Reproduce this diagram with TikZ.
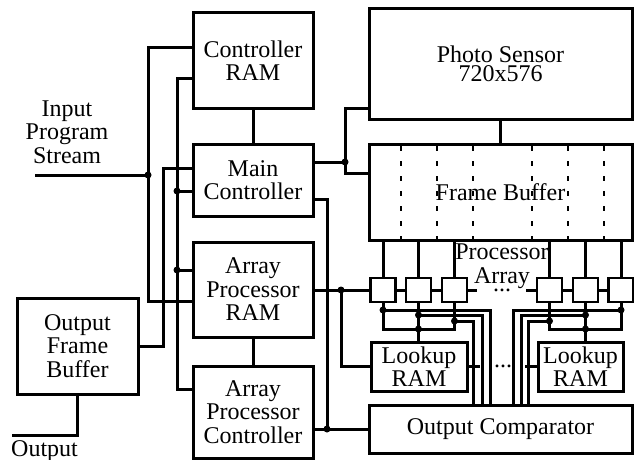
\documentclass[tikz,border=0pt]{standalone}
\usepackage{fontspec}
\setmainfont{Liberation Serif}
\usepackage{tikz}
\definecolor{ink}{HTML}{000000}

\begin{document}
\begin{tikzpicture}[
  x=1pt, y=-1pt,
  blk/.style={draw=ink, line width=3pt, align=center, inner sep=0pt, text=ink, font=\fontsize{24}{23.5}\selectfont},
  pe/.style={draw=ink, line width=2.6pt, minimum width=25pt, minimum height=24pt, inner sep=0pt},
  lbl/.style={align=center, inner sep=0pt, text=ink, font=\fontsize{24}{23.5}\selectfont},
  wire/.style={draw=ink, line width=3pt},
  sep/.style={draw=ink, line width=2pt, dash pattern=on 5pt off 10pt}
]
\useasboundingbox (0,0) rectangle (634,460);
% control column
\node[blk, minimum width=120pt, minimum height=95pt] (ctrlram) at (253,60.5) {Controller\\RAM};
\node[blk, minimum width=120pt, minimum height=72pt] (mainctrl) at (253,180) {Main\\Controller};
\node[blk, minimum width=120pt, minimum height=95pt] (apram) at (253,289.5) {Array\\Processor\\RAM};
\node[blk, minimum width=120pt, minimum height=92pt] (apctrl) at (253,412) {Array\\Processor\\Controller};
\node[blk, minimum width=121pt, minimum height=96pt] (outfb) at (77.5,346) {Output\\Frame\\Buffer};
% sensor side
\node[blk, minimum width=263pt, minimum height=110pt] (photo) at (500.5,64) {Photo Sensor\\[-4.5pt]720x576};
\node[blk, minimum width=263pt, minimum height=96pt] (framebuf) at (500.5,192) {Frame Buffer};
\node[blk, minimum width=263pt, minimum height=48pt] (outcmp) at (500.5,429) {Output Comparator};
\node[blk, minimum width=96pt, minimum height=49pt] (lkL) at (419,366.5) {Lookup\\RAM};
\node[blk, minimum width=85pt, minimum height=49pt] (lkR) at (580.5,366.5) {Lookup\\RAM};
% processor array
\node[lbl] (palbl) at (502,266) {Processor\\Array};
\node[lbl, anchor=base] (padots) at (502,291) {...};
\node[lbl, anchor=base] (lkdots) at (503,367) {...};
\node[pe] (pe1) at (383,290) {};
\node[pe] (pe2) at (418.5,290) {};
\node[pe] (pe3) at (454.5,290) {};
\node[pe] (pe4) at (549.5,290) {};
\node[pe] (pe5) at (585.5,290) {};
\node[pe] (pe6) at (621,290) {};
% outside labels
\node[lbl] (inlbl) at (67,132) {Input\\Program\\Stream};
\node[lbl, anchor=north west] (outlbl) at (11,440) {Output};

\coordinate (instart) at (35,175);
\coordinate (jin) at (148,175);
\coordinate (jmc) at (177,191);
\coordinate (jar) at (177,270);
\coordinate (bus) at (177,389);
\coordinate (fbbus) at (163,346);
\coordinate (outend) at (12,435);
\coordinate (jps) at (345,162);
\coordinate (joc) at (327,429);
\coordinate (jpa) at (341,290);
\coordinate (stubL) at (477,290);
\coordinate (stubR) at (526,290);

% frame buffer columns
\foreach \x in {401,437,473,532,568,604}
  \draw[sep] (\x,146) -- (\x,240);

% left buses
\draw[wire] (instart) -- (jin);
\draw[wire] (ctrlram.west |- 0,48) -| (jin) |- (apram.west |- 0,301);
\draw[wire] (ctrlram.west |- 0,78) -| (bus) -- (apctrl.west |- bus);
\draw[wire] (jmc) -- (mainctrl.west |- jmc);
\draw[wire] (jar) -- (apram.west |- jar);
\draw[wire] (mainctrl.west |- 0,168) -| (fbbus) -- (outfb.east);
\draw[wire] (outfb.south) |- (outend);
\draw[wire] (ctrlram) -- (mainctrl);
\draw[wire] (apram) -- (apctrl);

% right side
\draw[wire] (photo) -- (framebuf);
\draw[wire] (mainctrl.east |- jps) -- (jps);
\draw[wire] (photo.west |- 0,108) -| (jps) |- (framebuf.west |- 0,173);
\draw[wire] (mainctrl.east |- 0,199) -| (joc);
\draw[wire] (apctrl.east |- joc) -- (outcmp.west |- joc);
\draw[wire] (apram.east |- jpa) -- (pe1);
\draw[wire] (jpa) |- (lkL.west);
\draw[wire] (pe1) -- (pe2);
\draw[wire] (pe2) -- (pe3);
\draw[wire] (pe3) -- (stubL);
\draw[wire] (stubR) -- (pe4);
\draw[wire] (pe4) -- (pe5);
\draw[wire] (pe5) -- (pe6);
\foreach \p in {pe1,pe2,pe3,pe4,pe5,pe6}
  \draw[wire] (\p.north |- framebuf.south) -- (\p.north);

% left lookup group
\draw[wire] (pe1.south) |- (pe3.south |- 0,329) -- (pe3.south);
\draw[wire] (pe2.south) -- (pe2.south |- lkL.north);
\draw[wire] (pe1.south |- 0,310) -| (outcmp.north -| 490,0);
\draw[wire] (pe2.south |- 0,315) -| (outcmp.north -| 482,0);
\draw[wire] (pe3.south |- 0,321) -| (outcmp.north -| 473,0);
\draw[wire] (lkL.east) -- (lkL.east -| 480,0);
% right lookup group
\draw[wire] (pe4.south) |- (pe6.south |- 0,329) -- (pe6.south);
\draw[wire] (pe5.south) -- (pe5.south |- lkR.north);
\draw[wire] (pe6.south |- 0,310) -| (outcmp.north -| 513,0);
\draw[wire] (pe5.south |- 0,315) -| (outcmp.north -| 521,0);
\draw[wire] (pe4.south |- 0,321) -| (outcmp.north -| 528,0);
\draw[wire] (lkR.west) -- (lkR.west -| 525,0);

% junction dots
\foreach \c in {jin,jmc,jar,jps,joc,jpa}
  \fill[ink] (\c) circle (3.5);
\foreach \cx/\cy in {383/310,418.5/315,454.5/321,418.5/329,621/310,585.5/315,549.5/321,585.5/329}
  \fill[ink] (\cx,\cy) circle (3.5);
\end{tikzpicture}
\end{document}
